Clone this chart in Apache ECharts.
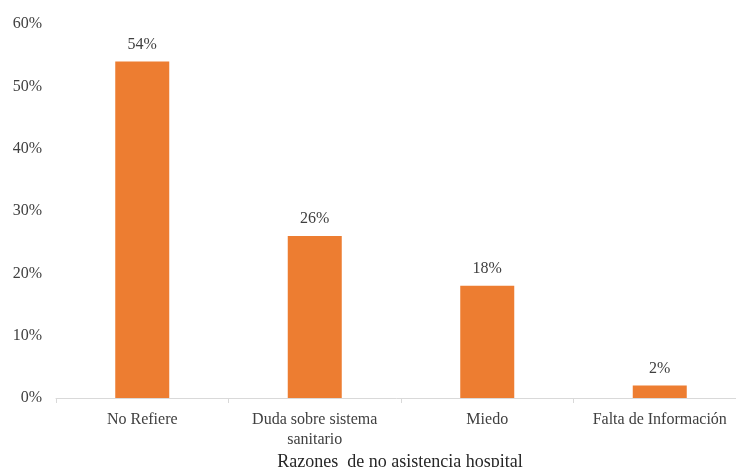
<!DOCTYPE html>
<html><head><meta charset="utf-8">
<script src="https://cdn.jsdelivr.net/npm/echarts@6/dist/echarts.min.js"></script>
<style>html,body{margin:0;padding:0;background:#fff}#c{width:736px;height:467px}</style>
</head><body><div id="c"></div>
<script>
const categories = ['No Refiere', 'Duda sobre sistema\nsanitario', 'Miedo', 'Falta de Información'];
const values = [54, 26, 18, 2];
const yTicks = [0, 10, 20, 30, 40, 50, 60];
const axisTitle = 'Razones  de no asistencia hospital';

const font = '"Liberation Serif", "Times New Roman", serif';
const chart = echarts.init(document.getElementById('c'));
chart.setOption({
  animation: false,
  grid: {left: 56, top: 24, width: 690, height: 374, containLabel: false, outerBoundsMode: 'none'},
  xAxis: {
    type: 'category', data: categories,
    axisLine: {lineStyle: {color: '#d9d9d9', width: 1}},
    axisTick: {show: true, length: 5, lineStyle: {color: '#d9d9d9'}},
    axisLabel: {interval: 0, hideOverlap: false, color: '#404040', fontFamily: font, fontSize: 16, margin: 12, lineHeight: 20},
    name: axisTitle, nameLocation: 'middle', nameGap: 55, nameMoveOverlap: false,
    nameTextStyle: {color: '#262626', fontFamily: font, fontSize: 18, padding: [0, 2, 0, 0]}
  },
  yAxis: {
    type: 'value', min: yTicks[0], max: yTicks[yTicks.length - 1], interval: 10,
    splitLine: {show: false}, axisLine: {show: false}, axisTick: {show: false},
    axisLabel: {formatter: '{value}%', color: '#404040', fontFamily: font, fontSize: 16, margin: 14}
  },
  series: [{
    type: 'bar', data: values, barWidth: 54,
    itemStyle: {color: '#ED7D31'},
    label: {show: true, position: 'top', formatter: '{c}%', color: '#404040', fontFamily: font, fontSize: 16, distance: 9}
  }]
});
</script></body></html>
